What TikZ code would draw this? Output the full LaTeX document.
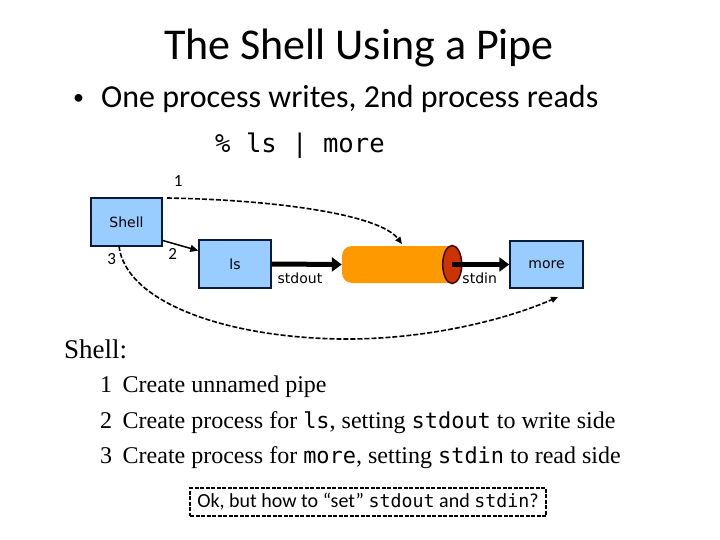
\documentclass[tikz,border=0pt]{standalone}
\usepackage{fontspec}
\setmainfont{Carlito}
\setmonofont[Scale=0.914]{DejaVu Sans Mono}
\newfontfamily\serifface{Liberation Serif}
\newfontfamily\diagface{DejaVu Sans}
\usetikzlibrary{arrows.meta,shapes.geometric,calc}
\definecolor{boxblue}{HTML}{99CCFF}
\definecolor{boxedge}{HTML}{0B1A3A}
\definecolor{pipeorange}{HTML}{FF9900}
\definecolor{pipered}{HTML}{CC3300}
\definecolor{pipeedge}{HTML}{3A0A00}
\begin{document}
\begin{tikzpicture}[x=1pt,y=-1pt,
  titletext/.style={inner sep=0pt, font=\fontsize{44}{48}\selectfont},
  bullettext/.style={inner sep=0pt, font=\fontsize{32}{36}\selectfont},
  bulletdot/.style={inner sep=0pt, font=\fontsize{22}{24}\selectfont},
  cmdtext/.style={inner sep=0pt, font=\ttfamily\fontsize{28}{32}\selectfont},
  procbox/.style={draw=boxedge, fill=boxblue, line width=1.5pt, inner sep=0pt, font=\diagface\fontsize{14}{16}\selectfont},
  pipebody/.style={fill=pipeorange, rounded corners=10pt, inner sep=0pt},
  pipeend/.style={ellipse, draw=pipeedge, fill=pipered, line width=1.5pt, inner sep=0pt},
  thickarrow/.style={line width=5pt, -{Triangle[length=10pt,width=14pt]}},
  thinarrow/.style={line width=1.5pt, -{Triangle[length=8pt,width=7pt]}},
  dasharrow/.style={line width=1.6pt, dash pattern=on 5pt off 2pt, -{Triangle[length=7pt,width=6pt]}},
  numlabel/.style={inner sep=0pt, font=\fontsize{17}{19}\selectfont},
  difflabel/.style={inner sep=0pt, font=\diagface\fontsize{14}{16}\selectfont},
  shellhead/.style={inner sep=0pt, font=\serifface\fontsize{27}{30}\selectfont},
  rowtext/.style={inner sep=0pt, font=\serifface\fontsize{24}{28}\selectfont},
  notebox/.style={draw, line width=1.5pt, dash pattern=on 4pt off 1.5pt, inner sep=0pt, font=\fontsize{20}{24}\selectfont}
]
\useasboundingbox (0,0) rectangle (720,540);
\fill[white] (0,0) rectangle (720,540);

% heading
\node[titletext, anchor=base] (title) at (359,60) {The Shell Using a Pipe};
\node[bulletdot, anchor=base] (bul) at (78.5,104.5) {•};
\node[bullettext, anchor=base west] (line1) at (101,108) {One process writes, 2nd process reads};
\node[cmdtext, anchor=base west] (cmd) at (215,153) {\% ls | more};

% processes
\node[procbox, minimum width=71pt, minimum height=48pt] (shell) at (126.5,222) {Shell};
\node[procbox, minimum width=72pt, minimum height=48pt] (ls) at (235,264) {ls};
\node[procbox, minimum width=73pt, minimum height=47pt] (more) at (546.5,264.5) {more};

% pipe
\node[pipebody, minimum width=110pt, minimum height=37pt] (pipe) at (397,264.5) {};
\fill[pipeorange] ($(pipe.north east)+(-12,0)$) rectangle (pipe.south east);
\node[pipeend, minimum width=19pt, minimum height=38pt] (pend) at (pipe.east) {};

% data flow
\draw[thickarrow] (ls.east) -- (pipe.west);
\draw[thickarrow] (pend.center) -- (more.west);

% shell actions
\draw[thinarrow] (shell.-27) -- (ls.160);
\coordinate (c1s) at (167,198);
\coordinate (c1e) at (402,244);
\draw[dasharrow] (c1s) .. controls (280,200) and (380,215) .. (c1e);
\coordinate (c3s) at (119,246);
\coordinate (c3e) at (558,297);
\draw[dasharrow] (c3s) .. controls (125,300) and (220,337) .. (340,339) .. controls (430,340) and (510,318) .. (c3e);

% labels
\node[numlabel, anchor=base] (n1) at (178.3,187) {1};
\node[numlabel, anchor=base] (n2) at (172.7,259) {2};
\node[numlabel, anchor=base] (n3) at (111.7,264) {3};
\node[difflabel, anchor=base] (lout) at (300,283) {stdout};
\node[difflabel, anchor=base] (lin) at (479.7,283) {stdin};

% explanation
\node[shellhead, anchor=base west] (sh) at (64,358) {Shell:};
\node[rowtext, anchor=base west] (r1n) at (100,392) {1};
\node[rowtext, anchor=base west] (r1) at (122.5,392) {Create unnamed pipe};
\node[rowtext, anchor=base west] (r2n) at (100,428) {2};
\node[rowtext, anchor=base west] (r2) at (122.5,428) {Create process for {\ttfamily ls}, setting {\ttfamily stdout} to write side};
\node[rowtext, anchor=base west] (r3n) at (100,463) {3};
\node[rowtext, anchor=base west] (r3) at (122.5,463) {Create process for {\ttfamily more}, setting {\ttfamily stdin} to read side};

\node[notebox, minimum width=356pt, minimum height=28pt] (note) at (368,502) {Ok, but how to “set” {\ttfamily stdout} and {\ttfamily stdin}?};
\end{tikzpicture}
\end{document}
